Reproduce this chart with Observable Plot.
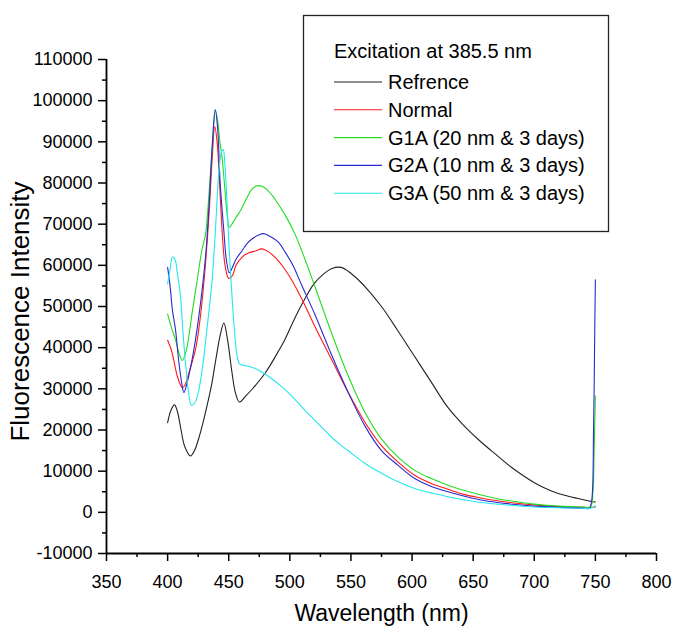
<!DOCTYPE html>
<html><head><meta charset="utf-8">
<script src="https://cdn.jsdelivr.net/npm/d3@7"></script>
<script src="https://cdn.jsdelivr.net/npm/@observablehq/plot@0.6"></script>
<style>body{margin:0;background:#fff}</style>
</head><body><div id="chart"></div>
<script>
const legendTitle = "Excitation at 385.5 nm";
const seriesNames = ["Refrence", "Normal", "G1A (20 nm & 3 days)", "G2A (10 nm & 3 days)", "G3A (50 nm & 3 days)"];
const seriesColors = ["#222222", "#ff1a1a", "#22dd22", "#2a2ad0", "#22e8ee"];
const xLabel = "Wavelength (nm)";
const yLabel = "Fluorescence Intensity";
const xTicks = [350, 400, 450, 500, 550, 600, 650, 700, 750, 800];
const yTicks = [-10000, 0, 10000, 20000, 30000, 40000, 50000, 60000, 70000, 80000, 90000, 100000, 110000];

const refWl  = [400, 403, 405.7, 408, 411, 414, 418.7, 422, 426, 431, 436, 439, 443, 446, 449, 452.7, 455.5, 458.7, 464, 470, 480, 490, 496, 503, 510, 520, 528, 535, 542, 548, 556, 564, 575, 588, 602, 616, 629, 642, 656, 670, 681, 692, 703, 714, 724, 735, 746, 750];
const refVal = [21800, 25000, 26100, 24500, 20000, 16000, 13700, 15000, 18500, 24300, 31000, 36300, 43000, 46000, 42000, 33900, 29000, 26800, 28300, 30200, 33900, 38800, 42000, 46500, 50600, 55600, 58000, 59300, 59500, 58500, 56500, 54000, 50000, 44300, 37900, 31500, 25600, 21200, 17200, 13700, 11000, 8700, 6700, 5200, 4200, 3400, 2700, 2500];

const normWl  = [400, 403, 405.5, 408, 412, 414, 418, 422.8, 427, 431, 434, 436.5, 438.6, 440.5, 442.5, 444.6, 447, 450, 453, 456, 461, 466, 472, 477, 483, 489, 496, 502, 510, 520.6, 534.2, 547.8, 561.4, 575, 588.6, 602.2, 615.8, 629.4, 643, 656.5, 670, 685, 700, 720, 740, 746, 750];
const normVal = [41800, 39500, 36300, 33000, 30300, 30800, 34500, 39500, 48000, 60400, 73000, 86000, 93700, 90000, 80000, 68400, 60000, 56800, 57500, 60000, 62000, 63000, 63500, 64000, 63200, 61600, 59000, 56200, 51700, 45100, 37100, 29100, 21900, 16200, 12200, 9000, 7000, 5600, 4300, 3500, 2800, 2200, 1800, 1400, 1200, 1100, 1300];

const g1aWl  = [400, 403, 406.5, 409, 412, 415, 418, 420, 424, 428, 431, 434, 437, 439, 441, 442.8, 444.6, 447, 449, 450.5, 453, 456, 460, 465, 469, 473, 477.2, 482, 488, 496.2, 504, 509.8, 520.6, 534.2, 547.8, 561.4, 575, 588.6, 602.2, 615.8, 629.4, 643, 656.5, 670, 685, 700, 720, 740, 746, 748, 749, 750];
const g1aVal = [48200, 45000, 41900, 39000, 36900, 39000, 44000, 48400, 56000, 63600, 67500, 78000, 91000, 97800, 95000, 90000, 86100, 78000, 71500, 69200, 70200, 71600, 73500, 76500, 78500, 79300, 79200, 78200, 76000, 72200, 67700, 63500, 54800, 43500, 33100, 24300, 17800, 13400, 10200, 8200, 6600, 5300, 4200, 3300, 2600, 2000, 1500, 1300, 1300, 5000, 15000, 28300];

const g2aWl  = [400, 402, 404, 406.5, 409, 411.5, 413.3, 416, 419, 422.8, 427, 431, 434, 436.5, 439, 441, 443, 446, 448, 450.5, 453, 456, 461, 465, 469, 474, 478.5, 484, 490.8, 496, 502, 510, 520.6, 534.2, 547.8, 561.4, 575, 588.6, 602.2, 615.8, 629.4, 643, 656.5, 670, 685, 700, 720, 740, 745, 747, 748.5, 749.5, 750];
const g2aVal = [59500, 55000, 49000, 44300, 37000, 31500, 29100, 31500, 35500, 41900, 51000, 62000, 75000, 89000, 97800, 93000, 80000, 68400, 61500, 58200, 59500, 61500, 63600, 65300, 66400, 67300, 67700, 67000, 65600, 63300, 60300, 55000, 48000, 38200, 29100, 21000, 15000, 11400, 8200, 6300, 5000, 3900, 3000, 2400, 1900, 1500, 1200, 1000, 1000, 3000, 20000, 45000, 56500];

const g3aWl  = [400, 402, 404, 406, 408, 410.6, 412.5, 414.6, 417, 419.5, 422, 425, 428.3, 432, 436.4, 439.1, 441.8, 444, 445.5, 447, 448.5, 450, 452.7, 455, 457, 459, 463, 467, 472, 477, 485, 493, 500, 507, 514, 521, 528, 534, 541, 548, 561, 575, 588.6, 602.2, 615.8, 629.4, 643, 656.5, 670, 685, 700, 720, 740, 746, 750];
const g3aVal = [55500, 59000, 62000, 61500, 58000, 52400, 44000, 36300, 29500, 26000, 26500, 29000, 34700, 44000, 56400, 68400, 82100, 87500, 88100, 84000, 76000, 66000, 52400, 43000, 37800, 36000, 35700, 35400, 34900, 34100, 32500, 30600, 28700, 26500, 24300, 22200, 20100, 18300, 16500, 14900, 12000, 9500, 7400, 5800, 4700, 3800, 3000, 2400, 2000, 1600, 1300, 1100, 1000, 1000, 1600];

const seriesWl = [refWl, normWl, g1aWl, g2aWl, g3aWl];
const seriesVal = [refVal, normVal, g1aVal, g2aVal, g3aVal];

const rows = [];
seriesNames.forEach((name, i) => {
  seriesWl[i].forEach((w, j) => rows.push({series: name, wl: w, val: seriesVal[i][j]}));
});

const xMinor = xTicks.slice(0, -1).map((t, i) => (t + xTicks[i + 1]) / 2);
const yMinor = yTicks.slice(0, -1).map((t, i) => (t + yTicks[i + 1]) / 2);
const xDomain = [xTicks[0], xTicks[xTicks.length - 1]];
const yDomain = [yTicks[0], yTicks[yTicks.length - 1]];

const tickFont = "'Liberation Sans Narrow','Arial Narrow','Liberation Sans',Arial,sans-serif";
const textFont = "'Liberation Sans',Arial,sans-serif";

const plot = Plot.plot({
  width: 685, height: 643,
  marginLeft: 106, marginRight: 29, marginTop: 59, marginBottom: 90,
  x: {domain: xDomain},
  y: {domain: yDomain},
  color: {domain: seriesNames, range: seriesColors},
  style: {fontFamily: tickFont, fontSize: "18px", color: "#000", background: "#fff"},
  marks: [
    Plot.axisX({ticks: xTicks, tickSize: 8, tickPadding: 14, strokeWidth: 1.5, label: null, tickFormat: d => String(d), fontSize: 18}),
    Plot.axisX({ticks: xMinor, tickSize: 4, strokeWidth: 1.5, label: null, tickFormat: () => ""}),
    Plot.axisY({ticks: yTicks, tickSize: 8, tickPadding: 6, strokeWidth: 1.5, label: null, tickFormat: d => String(d), fontSize: 18}),
    Plot.axisY({ticks: yMinor, tickSize: 4, strokeWidth: 1.5, label: null, tickFormat: () => ""}),
    Plot.ruleX([xDomain[0]], {stroke: "#000", strokeWidth: 1.8}),
    Plot.ruleY([yDomain[0]], {stroke: "#000", strokeWidth: 1.8}),
    Plot.line(rows, {x: "wl", y: "val", z: "series", stroke: "series", strokeWidth: 1.1, curve: "catmull-rom"}),
    Plot.text([xLabel], {frameAnchor: "bottom", dy: 67, fontSize: 23, fontFamily: textFont, fill: "#000"}),
    Plot.text([yLabel], {frameAnchor: "left", dx: -86, dy: 5, rotate: -90, textAnchor: "middle", fontSize: 26, fontFamily: textFont, fill: "#000"})
  ]
});

const svg = d3.select(plot);
const lg = svg.append("g").attr("font-family", textFont).attr("font-size", 20).attr("fill", "#000").attr("text-anchor", "start");
lg.append("rect").attr("x", 303.5).attr("y", 15.5).attr("width", 305).attr("height", 216)
  .attr("fill", "#fff").attr("stroke", "#222").attr("stroke-width", 1.3);
lg.append("text").attr("x", 334).attr("y", 51).attr("dy", "0.35em").text(legendTitle);
seriesNames.forEach((n, i) => {
  const y = 82 + i * 27.8;
  lg.append("line").attr("x1", 334).attr("x2", 382).attr("y1", y).attr("y2", y)
    .attr("stroke", seriesColors[i]).attr("stroke-width", 1.1);
  lg.append("text").attr("x", 388).attr("y", y).attr("dy", "0.35em").text(n);
});

document.getElementById("chart").appendChild(plot);
</script>
</body></html>
